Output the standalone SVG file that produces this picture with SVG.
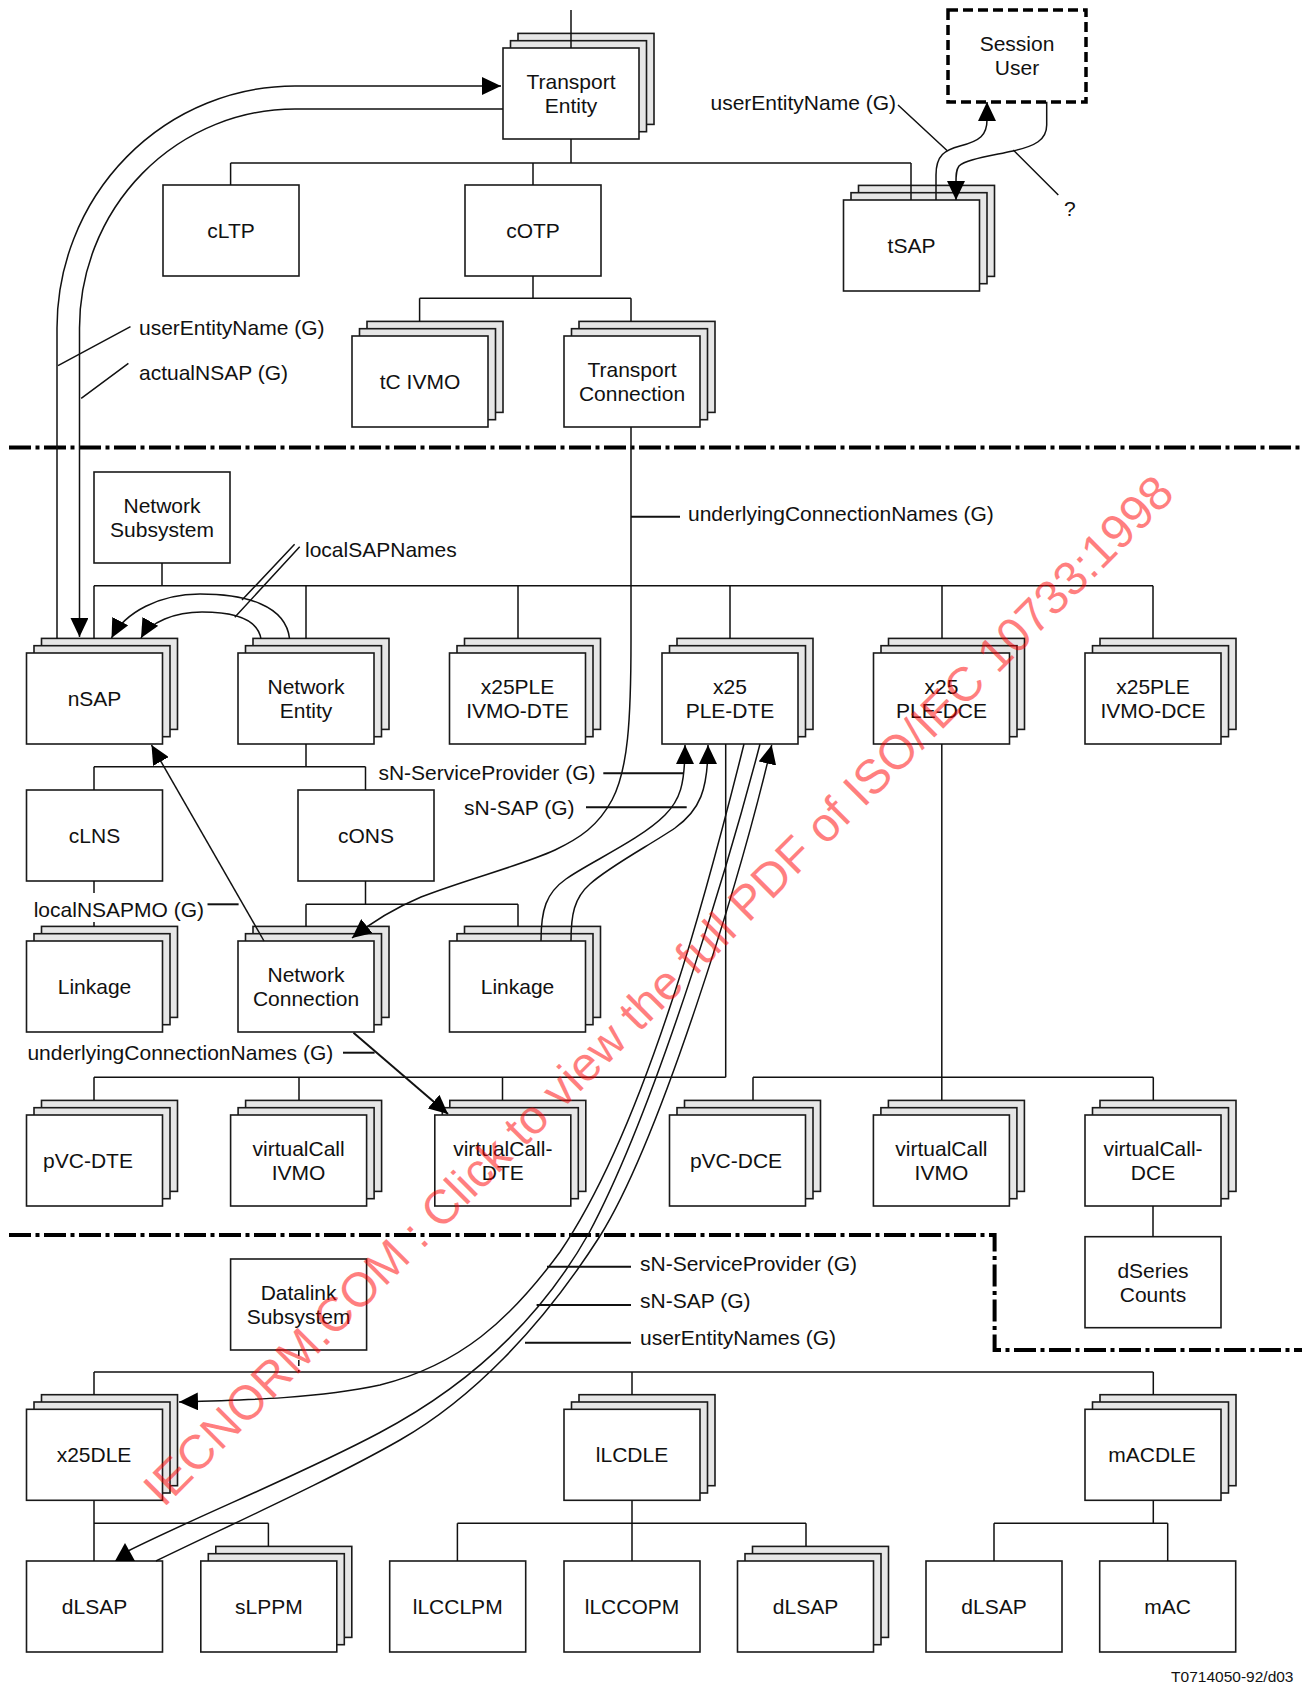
<svg xmlns="http://www.w3.org/2000/svg" width="1302" height="1687" viewBox="0 0 1302 1687">
<style>
.f{fill:#fff;stroke:#1a1a1a;stroke-width:1.6}
.b{fill:#e6e6e6;stroke:#1a1a1a;stroke-width:1.6}
text{font-family:"Liberation Sans",Arial,Helvetica,sans-serif;font-size:21px;fill:#111}
.t{text-anchor:middle}
.e{text-anchor:end}
.c{fill:none;stroke:#111;stroke-width:1.5}
.k{fill:none;stroke:#111;stroke-width:2}
.d{fill:none;stroke:#000;stroke-width:4;stroke-dasharray:22 4.5 4 4.5}
.su{fill:#fff;stroke:#000;stroke-width:3.5;stroke-dasharray:10 5}
.wm{font-size:48px;fill:#ff0000;fill-opacity:0.5;text-anchor:middle}
.sm{font-size:15.5px}
</style>
<defs>
<marker id="ah" viewBox="0 0 10 10" refX="10" refY="5" markerWidth="19" markerHeight="18" markerUnits="userSpaceOnUse" orient="auto" preserveAspectRatio="none"><path d="M0,0L10,5L0,10z" fill="#000"/></marker>
<g id="stk"><rect class="b" x="15" y="-14.6" width="136" height="91"/><rect class="b" x="7.5" y="-7.3" width="136" height="91"/><rect class="f" width="136" height="91"/></g>
<rect id="box" class="f" width="136" height="91"/>
</defs>

<g id="dividers">
<path class="d" d="M9,447.5H1302"/>
<path class="d" d="M9,1235H994.6V1350H1302"/>
</g>

<g id="nodes">
<g id="transportEntity"><use href="#stk" x="503" y="48"/><text class="t" x="571" y="89">Transport</text><text class="t" x="571" y="113">Entity</text></g>
<g id="cLTP"><use href="#box" x="163" y="185"/><text class="t" x="231" y="238">cLTP</text></g>
<g id="cOTP"><use href="#box" x="465" y="185"/><text class="t" x="533" y="238">cOTP</text></g>
<g id="tSAP"><use href="#stk" x="843.5" y="200"/><text class="t" x="911.5" y="253">tSAP</text></g>
<g id="sessionUser"><rect class="su" x="948" y="10" width="138" height="92"/><text class="t" x="1017" y="50.5">Session</text><text class="t" x="1017" y="75">User</text></g>
<g id="tCIVMO"><use href="#stk" x="352" y="336"/><text class="t" x="420" y="389">tC IVMO</text></g>
<g id="transportConnection"><use href="#stk" x="564" y="336"/><text class="t" x="632" y="377">Transport</text><text class="t" x="632" y="401">Connection</text></g>

<g id="networkSubsystem"><use href="#box" x="94" y="472"/><text class="t" x="162" y="513">Network</text><text class="t" x="162" y="537">Subsystem</text></g>
<g id="nSAP"><use href="#stk" x="26.5" y="653"/><text class="t" x="94.5" y="706">nSAP</text></g>
<g id="networkEntity"><use href="#stk" x="238" y="653"/><text class="t" x="306" y="694">Network</text><text class="t" x="306" y="718">Entity</text></g>
<g id="x25PLEIVMODTE"><use href="#stk" x="449.5" y="653"/><text class="t" x="517.5" y="694">x25PLE</text><text class="t" x="517.5" y="718">IVMO-DTE</text></g>
<g id="x25PLEDTE"><use href="#stk" x="662" y="653"/><text class="t" x="730" y="694">x25</text><text class="t" x="730" y="718">PLE-DTE</text></g>
<g id="x25PLEDCE"><use href="#stk" x="873.5" y="653"/><text class="t" x="941.5" y="694">x25</text><text class="t" x="941.5" y="718">PLE-DCE</text></g>
<g id="x25PLEIVMODCE"><use href="#stk" x="1085" y="653"/><text class="t" x="1153" y="694">x25PLE</text><text class="t" x="1153" y="718">IVMO-DCE</text></g>
<g id="cLNS"><use href="#box" x="26.5" y="790"/><text class="t" x="94.5" y="843">cLNS</text></g>
<g id="cONS"><use href="#box" x="298" y="790"/><text class="t" x="366" y="843">cONS</text></g>
<g id="linkage1"><use href="#stk" x="26.5" y="941"/><text class="t" x="94.5" y="994">Linkage</text></g>
<g id="networkConnection"><use href="#stk" x="238" y="941"/><text class="t" x="306" y="982">Network</text><text class="t" x="306" y="1006">Connection</text></g>
<g id="linkage2"><use href="#stk" x="449.5" y="941"/><text class="t" x="517.5" y="994">Linkage</text></g>
<g id="pVCDTE"><use href="#stk" x="26.5" y="1115"/><text class="t" x="88" y="1168">pVC-DTE</text></g>
<g id="virtualCallIVMO1"><use href="#stk" x="230.6" y="1115"/><text class="t" x="298.6" y="1156">virtualCall</text><text class="t" x="298.6" y="1180">IVMO</text></g>
<g id="virtualCallDTE"><use href="#stk" x="434.8" y="1115"/><text class="t" x="502.8" y="1156">virtualCall-</text><text class="t" x="502.8" y="1180">DTE</text></g>
<g id="pVCDCE"><use href="#stk" x="669.5" y="1115"/><text class="t" x="736" y="1168">pVC-DCE</text></g>
<g id="virtualCallIVMO2"><use href="#stk" x="873.4" y="1115"/><text class="t" x="941.4" y="1156">virtualCall</text><text class="t" x="941.4" y="1180">IVMO</text></g>
<g id="virtualCallDCE"><use href="#stk" x="1085" y="1115"/><text class="t" x="1153" y="1156">virtualCall-</text><text class="t" x="1153" y="1180">DCE</text></g>
<g id="dSeriesCounts"><use href="#box" x="1085" y="1236.7"/><text class="t" x="1153" y="1277.7">dSeries</text><text class="t" x="1153" y="1301.7">Counts</text></g>

<g id="datalinkSubsystem"><use href="#box" x="230.6" y="1259"/><text class="t" x="298.6" y="1300">Datalink</text><text class="t" x="298.6" y="1324">Subsystem</text></g>
<g id="x25DLE"><use href="#stk" x="26.5" y="1409.3"/><text class="t" x="94" y="1462.3">x25DLE</text></g>
<g id="lLCDLE"><use href="#stk" x="564" y="1409.3"/><text class="t" x="632" y="1462.3">lLCDLE</text></g>
<g id="mACDLE"><use href="#stk" x="1085" y="1409.3"/><text class="t" x="1152" y="1462.3">mACDLE</text></g>
<g id="dLSAP1"><use href="#box" x="26.5" y="1561"/><text class="t" x="94.5" y="1614">dLSAP</text></g>
<g id="sLPPM"><use href="#stk" x="200.8" y="1561"/><text class="t" x="268.8" y="1614">sLPPM</text></g>
<g id="lLCCLPM"><use href="#box" x="389.7" y="1561"/><text class="t" x="457.7" y="1614">lLCCLPM</text></g>
<g id="lLCCOPM"><use href="#box" x="564" y="1561"/><text class="t" x="632" y="1614">lLCCOPM</text></g>
<g id="dLSAP2"><use href="#stk" x="737.5" y="1561"/><text class="t" x="805.5" y="1614">dLSAP</text></g>
<g id="dLSAP3"><use href="#box" x="926" y="1561"/><text class="t" x="994" y="1614">dLSAP</text></g>
<g id="mAC"><use href="#box" x="1099.7" y="1561"/><text class="t" x="1167.7" y="1614">mAC</text></g>
</g>

<g id="connectors">
<path class="c" d="M571,10V48M571,139V163M230.6,163H911M230.6,163V185M533,163V185M911,163V200"/>
<path class="c" d="M533,276V298.3M419.6,298.3H631M419.6,298.3V321.4M631,298.3V321.4"/>
<path class="c" d="M57,639V328A238,242 0 0 1 295,86H501" marker-end="url(#ah)"/>
<path class="c" d="M503,109H295A215.5,219 0 0 0 79.5,328V637" marker-end="url(#ah)"/>
<path class="c" d="M130.5,326.7L58,365.7M128.4,363.3L81.2,398.3"/>
<path class="c" d="M936,200L936,175C936,155 945,150 960,146C980,141 987,135 987,120L987,102" marker-end="url(#ah)"/>
<path class="c" d="M1046.7,101.7L1046.7,125C1046.7,140 1035,146 1013,151C985,157 965,160 959,166C956,170 956,175 956,182L956,200" marker-end="url(#ah)"/>
<path class="c" d="M898,105L947.3,150.7M1013.3,150L1058.3,195"/>
<path class="c" d="M631,427L631,640C631,720 628,770 612,800C598,826 580,838 555,850C520,866 470,878 421,897C395,908 372,922 352,938" marker-end="url(#ah)"/>
<path class="k" d="M631,516.7H680"/>

<path class="c" d="M162,563V585.7M94,585.7H1153M94,585.7V639M306,585.7V639M518,585.7V639M730,585.7V639M942,585.7V639M1153,585.7V639"/>
<path class="c" d="M289.6,639C286,605 245,594 200,594C160,594 125,612 111.5,638" marker-end="url(#ah)"/>
<path class="c" d="M261,639C258,620 235,612 202,612C175,612 150,622 141,638" marker-end="url(#ah)"/>
<path class="c" d="M294.6,544.3L242,600M299.7,546.7L234.8,617.3"/>
<path class="c" d="M306,744V766.7M94,766.7H365.5M94,766.7V790M365.5,766.7V790"/>
<path class="c" d="M94,881V893M94,922V926.7"/>
<path class="c" d="M365.5,881V904.3M306,904.3H518M306,904.3V926.7M518,904.3V926.7"/>
<path class="k" d="M207.5,904.3H238.6"/>
<path class="c" d="M264,941L151.5,745" marker-end="url(#ah)"/>
<path class="k" d="M353.5,1032.7L448,1114" marker-end="url(#ah)"/>
<path class="k" d="M343,1052.7H374.6"/>
<path class="c" d="M725.7,744V1077.3M94,1077.3H725.7M94,1077.3V1100M299,1077.3V1100M502.5,1077.3V1100"/>
<path class="c" d="M941.8,744V1100M753,1077.3H1153.3M753,1077.3V1100M1153.3,1077.3V1100M1153,1206V1236.7"/>
<path class="c" d="M541,941C541,910 546,893 566,879C590,862 640,840 665,815C680,800 685,785 685,745" marker-end="url(#ah)"/>
<path class="c" d="M571,941C571,915 574,898 590,884C610,866 650,845 675,828C700,810 708,790 708,745" marker-end="url(#ah)"/>
<path class="k" d="M603.3,773.3H683.3M586,807.3H686.7"/>
<path class="c" d="M744,744C715,860 650,1120 560,1252C510,1320 460,1365 380,1385C320,1398 250,1400 179,1402" marker-end="url(#ah)"/>
<path class="c" d="M760,744C735,840 660,1100 589,1233C540,1320 470,1385 379,1433C300,1475 200,1515 128,1551"/>
<polygon points="125,1543 115,1561 135,1561" fill="#000"/>
<path class="c" d="M156,1561C230,1525 330,1480 400,1440C470,1400 540,1330 600,1236C660,1140 740,880 771.7,745" marker-end="url(#ah)"/>
<path class="k" d="M547,1266.7H631M536.6,1305H631M525,1342.7H631"/>

<path class="c" d="M298.8,1350V1372" stroke-dasharray="6 4"/>
<path class="c" d="M94,1372H1153.3M94,1372V1395M632,1372V1395M1153.3,1372V1395"/>
<path class="c" d="M94,1500.7V1561M94,1523.3H268.4M268.4,1523.3V1546"/>
<path class="c" d="M632,1500.7V1561M457.4,1523.3H806M457.4,1523.3V1561M806,1523.3V1546"/>
<path class="c" d="M1153.3,1500.7V1523.3M994,1523.3H1167.7M994,1523.3V1561M1167.7,1523.3V1561"/>
</g>

<g id="labels">
<text x="139" y="335">userEntityName (G)</text>
<text x="139" y="380">actualNSAP (G)</text>
<text class="e" x="896" y="110">userEntityName (G)</text>
<text x="1064" y="216">?</text>
<text x="688" y="521">underlyingConnectionNames (G)</text>
<text x="305" y="557">localSAPNames</text>
<text class="e" x="595.5" y="780">sN-ServiceProvider (G)</text>
<text class="e" x="574.5" y="815">sN-SAP (G)</text>
<text x="33.7" y="917">localNSAPMO (G)</text>
<text x="27.4" y="1060">underlyingConnectionNames (G)</text>
<text x="640" y="1271">sN-ServiceProvider (G)</text>
<text x="640" y="1308">sN-SAP (G)</text>
<text x="640" y="1345">userEntityNames (G)</text>
<text class="e sm" x="1293.5" y="1682">T0714050-92/d03</text>
</g>

<g id="watermark">
<text class="wm" x="670" y="1002" transform="rotate(-45 670 1002)">IECNORM.COM : Click to view the full PDF of ISO/IEC 10733:1998</text>
</g>
</svg>
